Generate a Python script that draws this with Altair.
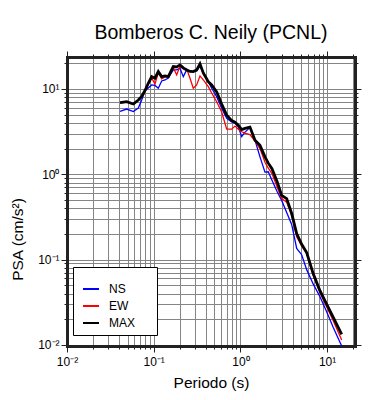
import altair as alt
import pandas as pd

# ---- data ----
periods = [0.0409, 0.0488, 0.0582, 0.0665, 0.0727, 0.0794, 0.0866, 0.0948, 0.1035, 0.1130,
           0.1237, 0.1350, 0.1474, 0.1683, 0.1842, 0.2011, 0.2195, 0.2402, 0.2623, 0.2862,
           0.3133, 0.3420, 0.3734, 0.4264, 0.4667, 0.5329, 0.6085, 0.6950, 0.7937, 0.8665,
           0.9458, 1.035, 1.130, 1.290, 1.474, 1.683, 1.922, 2.098, 2.314, 2.643,
           2.995, 3.420, 3.906, 4.461, 5.093, 5.818, 6.932, 8.281, 9.89, 11.79, 14.74]

ns = [5.47, 5.82, 5.44, 5.98, 7.42, 9.47, 10.27, 11.15, 11.00, 10.19,
      12.42, 12.76, 13.47, 16.73, 16.73, 17.52, 13.95, 16.73, 16.28, 15.97,
      16.28, 18.5, 15.43, 12.19, 10.19, 8.12, 5.93, 4.52, 4.12, 3.95,
      3.60, 2.76, 3.12, 3.53, 2.51, 1.60, 1.06, 1.07, 0.850, 0.631,
      0.494, 0.357, 0.258, 0.135, 0.114, 0.0762, 0.0515, 0.0367, 0.0244, 0.0160, 0.0097]

ew = [6.85, 7.0, 6.6, 7.35, 8.1, 9.22, 11.4, 13.5, 11.45, 15.5,
      13.11, 13.84, 13.9, 17.8, 14.61, 18.5, 17.19, 17.19, 13.36, 10.19,
      11.15, 14.22, 12.76, 10.64, 8.97, 7.09, 5.36, 3.38, 3.38, 3.67,
      3.38, 3.15, 3.04, 2.92, 2.45, 2.0, 1.38, 1.18, 1.02, 0.72,
      0.52, 0.47, 0.329, 0.185, 0.146, 0.118, 0.0648, 0.0409, 0.0280, 0.0192, 0.0114]

mx = [6.90, 7.09, 6.66, 7.42, 8.16, 9.6, 11.67, 13.95, 13.36, 15.97,
      13.95, 14.22, 13.95, 18.30, 18.15, 19.16, 17.67, 16.73, 16.06, 15.97,
      16.73, 19.68, 15.43, 12.19, 11.15, 9.22, 6.66, 4.94, 4.26, 4.09,
      3.77, 3.34, 3.45, 3.57, 2.5, 2.19, 1.60, 1.35, 1.16, 0.83,
      0.566, 0.518, 0.348, 0.202, 0.151, 0.121, 0.068, 0.0432, 0.0300, 0.0210, 0.0133]

components = ["NS", "EW", "MAX"]
colors = ["#0000ff", "#ff0000", "#000000"]

x_ticks = [0.01, 0.02, 0.03, 0.04, 0.05, 0.06, 0.07, 0.08, 0.09,
           0.1, 0.2, 0.3, 0.4, 0.5, 0.6, 0.7, 0.8, 0.9,
           1, 2, 3, 4, 5, 6, 7, 8, 9, 10, 20]
y_ticks = [0.01, 0.02, 0.03, 0.04, 0.05, 0.06, 0.07, 0.08, 0.09,
           0.1, 0.2, 0.3, 0.4, 0.5, 0.6, 0.7, 0.8, 0.9,
           1, 2, 3, 4, 5, 6, 7, 8, 9, 10, 20]
major_values = [0.01, 0.1, 1, 10]
major_labels = ["10⁻²", "10⁻¹", "10⁰", "10¹"]

title_text = "Bomberos C. Neily (PCNL)"
x_title = "Periodo (s)"
y_title = "PSA (cm/s²)"

FONT = "Liberation Sans"
FRAME = "#222222"

rows = []
for comp, vals in zip(components, [ns, ew, mx]):
    for p, v in zip(periods, vals):
        rows.append({"period": p, "psa": v, "comp": comp})
df = pd.DataFrame(rows)

label_expr = ""
for v, l in zip(major_values, major_labels):
    label_expr += f"abs(datum.value - {v}) < {v * 1e-6} ? '{l}' : "
label_expr += "''"

major_test = "abs(log(datum.value)/LN10 - round(log(datum.value)/LN10)) < 0.0001"
tick_size = {"condition": {"test": major_test, "value": 6}, "value": 3}

xs = alt.Scale(type="log", domain=[0.01, 21], nice=False)
ys = alt.Scale(type="log", domain=[0.0097, 23.7], nice=False)

common_axis = dict(domainColor=FRAME, domainWidth=3, domainCap="square",
                   tickColor=FRAME, tickWidth=1, tickSize=tick_size,
                   labelFont=FONT, labelFontSize=12, labelColor="black",
                   labelOverlap=False, labelFlush=False)

x_bottom = alt.Axis(values=x_ticks, labelExpr=label_expr, grid=True, gridColor="#858585",
                    gridWidth=1, labelPadding=4, title=x_title, titleFont=FONT,
                    titleFontSize=15.5, titleFontWeight="normal", titleColor="black",
                    titleY=41, titleBaseline="alphabetic", **common_axis)
y_left = alt.Axis(values=y_ticks, labelExpr=label_expr, grid=True, gridColor="#858585",
                  gridWidth=1, labelPadding=2, title=y_title, titleFont=FONT,
                  titleFontSize=15.5, titleFontWeight="normal", titleColor="black",
                  titleX=-45, titleY=182, titleAngle=270, titleAlign="center",
                  titleBaseline="alphabetic", **common_axis)
x_top = alt.Axis(orient="top", values=x_ticks, labels=False, grid=False, title=None, **common_axis)
y_right = alt.Axis(orient="right", values=y_ticks, labels=False, grid=False, title=None, **common_axis)

legend = alt.Legend(orient="none", legendX=6, legendY=210, padding=6,
                    symbolType="stroke", symbolSize=256, symbolStrokeWidth=2,
                    symbolOffset=3, labelOffset=9, labelFont=FONT, labelFontSize=12,
                    labelColor="black", rowPadding=2,
                    title="\u2800" * 13, titleFont="DejaVu Sans", titleFontSize=7,
                    titlePadding=0, titleColor="white",
                    strokeColor="black", fillColor="white")

color = alt.Color("comp:N", scale=alt.Scale(domain=components, range=colors), legend=legend)

base = alt.Chart(df)

ns_layer = base.transform_filter("datum.comp == 'NS'").mark_line(strokeWidth=1.3).encode(
    x=alt.X("period:Q", scale=xs, axis=x_bottom),
    y=alt.Y("psa:Q", scale=ys, axis=y_left),
    color=color,
)
ew_layer = base.transform_filter("datum.comp == 'EW'").mark_line(strokeWidth=1.3).encode(
    x=alt.X("period:Q", scale=xs, axis=None),
    y=alt.Y("psa:Q", scale=ys, axis=None),
    color=color,
)
max_layer = base.transform_filter("datum.comp == 'MAX'").mark_line(strokeWidth=2.8).encode(
    x=alt.X("period:Q", scale=xs, axis=x_top),
    y=alt.Y("psa:Q", scale=ys, axis=y_right),
    color=color,
)

chart = alt.layer(ns_layer, ew_layer, max_layer).resolve_axis(
    x="independent", y="independent"
).properties(
    width=288,
    height=289,
    autosize=alt.AutoSizeParams(type="none"),
    padding={"left": 59, "top": 49, "right": 27, "bottom": 46},
    background="white",
    title=alt.Title(title_text, font=FONT, fontSize=19.5, fontWeight="normal",
                    color="black", anchor="middle", frame="group",
                    baseline="alphabetic", offset=-8),
).configure_view(stroke=None)

chart.save("out.html", embed_options={"renderer": "svg", "actions": False})
